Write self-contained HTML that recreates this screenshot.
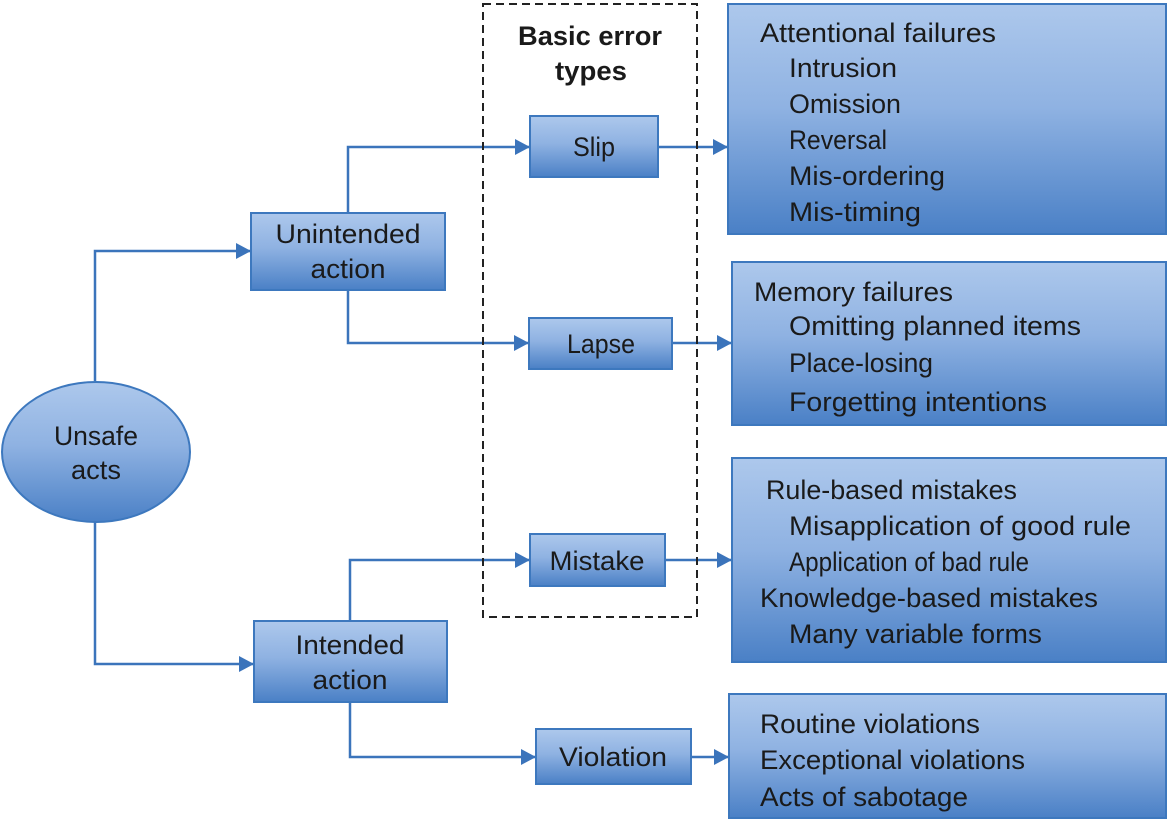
<!DOCTYPE html>
<html><head><meta charset="utf-8"><style>
html,body{margin:0;padding:0;background:#fff;}
svg{display:block;}
text{font-family:"Liberation Sans",sans-serif;font-size:27px;fill:#1a1a1a;}
</style></head><body>
<svg width="1171" height="821" viewBox="0 0 1171 821" xmlns="http://www.w3.org/2000/svg">
<defs>
<linearGradient id="g" x1="0" y1="0" x2="0" y2="1">
<stop offset="0" stop-color="#adc8ec"/><stop offset="0.45" stop-color="#8fb2e2"/><stop offset="1" stop-color="#4a80c6"/>
</linearGradient>
<marker id="b" markerWidth="16" markerHeight="16" refX="15" refY="8" orient="auto" markerUnits="userSpaceOnUse">
<path d="M0,0 L15,8 L0,16 z" fill="#3b74bb"/>
</marker>
</defs>
<g fill="none" stroke="#3b74bb" stroke-width="2.5">
<path d="M95,381 V251 H251" marker-end="url(#b)"/>
<path d="M95,522 V664 H254" marker-end="url(#b)"/>
<path d="M348,213 V147 H530" marker-end="url(#b)"/>
<path d="M348,290 V343 H529" marker-end="url(#b)"/>
<path d="M350,621 V560 H530" marker-end="url(#b)"/>
<path d="M350,702 V757 H536" marker-end="url(#b)"/>
<path d="M658,147 H728" marker-end="url(#b)"/>
<path d="M672,343 H732" marker-end="url(#b)"/>
<path d="M665,560 H732" marker-end="url(#b)"/>
<path d="M691,757 H729" marker-end="url(#b)"/>
</g>
<rect x="483" y="4" width="214" height="613" fill="none" stroke="#222" stroke-width="2" stroke-dasharray="8,5"/>
<g fill="url(#g)" stroke="#3d78be" stroke-width="2">
<ellipse cx="96" cy="452" rx="94" ry="70"/>
<rect x="251" y="213" width="194" height="77"/>
<rect x="254" y="621" width="193" height="81"/>
<rect x="530" y="116" width="128" height="61"/>
<rect x="529" y="318" width="143" height="51"/>
<rect x="530" y="534" width="135" height="52"/>
<rect x="536" y="729" width="155" height="55"/>
<rect x="728" y="4" width="438" height="230"/>
<rect x="732" y="262" width="434" height="163"/>
<rect x="732" y="458" width="434" height="204"/>
<rect x="729" y="694" width="437" height="124"/>
</g>
<g text-anchor="middle">
<text x="96" y="445" textLength="84" lengthAdjust="spacingAndGlyphs">Unsafe</text><text x="96" y="479" textLength="50" lengthAdjust="spacingAndGlyphs">acts</text>
<text x="348" y="243" textLength="145" lengthAdjust="spacingAndGlyphs">Unintended</text><text x="348" y="278" textLength="75" lengthAdjust="spacingAndGlyphs">action</text>
<text x="350" y="654" textLength="109" lengthAdjust="spacingAndGlyphs">Intended</text><text x="350" y="689" textLength="75" lengthAdjust="spacingAndGlyphs">action</text>
<text x="594" y="156" textLength="42" lengthAdjust="spacingAndGlyphs">Slip</text>
<text x="601" y="353" textLength="68" lengthAdjust="spacingAndGlyphs">Lapse</text>
<text x="597" y="570" textLength="95" lengthAdjust="spacingAndGlyphs">Mistake</text>
<text x="613" y="766" textLength="108" lengthAdjust="spacingAndGlyphs">Violation</text>
<text x="590" y="45" style="font-weight:bold" textLength="144" lengthAdjust="spacingAndGlyphs">Basic error</text>
<text x="591" y="80" style="font-weight:bold" textLength="72" lengthAdjust="spacingAndGlyphs">types</text>
</g>
<g lengthAdjust="spacingAndGlyphs">
<text x="760" y="42" textLength="236" lengthAdjust="spacingAndGlyphs">Attentional failures</text>
<text x="789" y="77" textLength="108" lengthAdjust="spacingAndGlyphs">Intrusion</text>
<text x="789" y="113" textLength="112" lengthAdjust="spacingAndGlyphs">Omission</text>
<text x="789" y="149" textLength="98" lengthAdjust="spacingAndGlyphs">Reversal</text>
<text x="789" y="185" textLength="156" lengthAdjust="spacingAndGlyphs">Mis-ordering</text>
<text x="789" y="221" textLength="132" lengthAdjust="spacingAndGlyphs">Mis-timing</text>
<text x="754" y="301" textLength="199" lengthAdjust="spacingAndGlyphs">Memory failures</text>
<text x="789" y="335" textLength="292" lengthAdjust="spacingAndGlyphs">Omitting planned items</text>
<text x="789" y="372" textLength="144" lengthAdjust="spacingAndGlyphs">Place-losing</text>
<text x="789" y="411" textLength="258" lengthAdjust="spacingAndGlyphs">Forgetting intentions</text>
<text x="766" y="499" textLength="251" lengthAdjust="spacingAndGlyphs">Rule-based mistakes</text>
<text x="789" y="535" textLength="342" lengthAdjust="spacingAndGlyphs">Misapplication of good rule</text>
<text x="789" y="571" textLength="240" lengthAdjust="spacingAndGlyphs">Application of bad rule</text>
<text x="760" y="607" textLength="338" lengthAdjust="spacingAndGlyphs">Knowledge-based mistakes</text>
<text x="789" y="643" textLength="253" lengthAdjust="spacingAndGlyphs">Many variable forms</text>
<text x="760" y="733" textLength="220" lengthAdjust="spacingAndGlyphs">Routine violations</text>
<text x="760" y="769" textLength="265" lengthAdjust="spacingAndGlyphs">Exceptional violations</text>
<text x="760" y="806" textLength="208" lengthAdjust="spacingAndGlyphs">Acts of sabotage</text>
</g>
</svg>
</body></html>
